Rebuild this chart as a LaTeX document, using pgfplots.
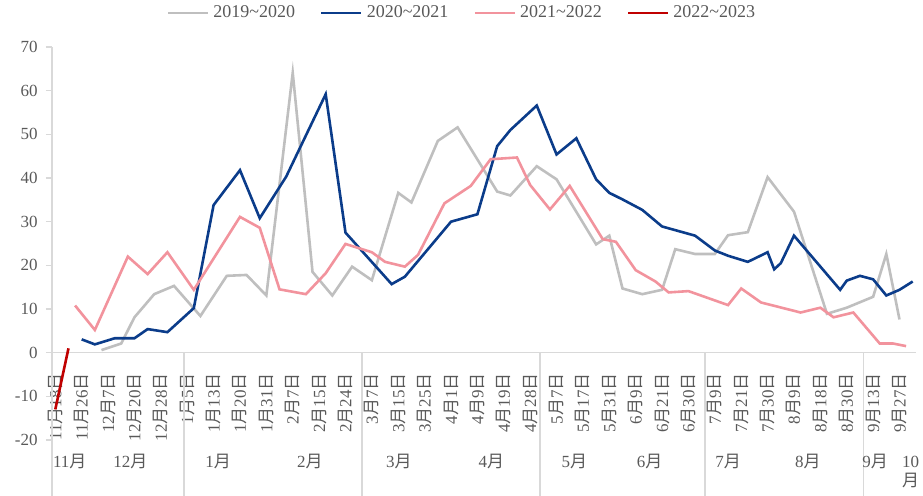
\documentclass[border=0pt]{standalone}
\usepackage{fontspec}
\setmainfont{Liberation Serif}
\newfontfamily\cjk{Noto Sans CJK SC}
\usepackage{pgfplots}
\pgfplotsset{compat=1.18}
\definecolor{cgrey}{HTML}{BFBFBF}
\definecolor{cblue}{HTML}{0B3C8A}
\definecolor{cpink}{HTML}{F2939D}
\definecolor{cred}{HTML}{C00000}
\definecolor{txt}{HTML}{595959}
\definecolor{axgray}{HTML}{D9D9D9}
\newcommand\yue{{\cjk 月}}
\newcommand\ri{{\cjk 日}}
\begin{document}
\begin{tikzpicture}
\useasboundingbox (0,0) rectangle (461.5pt,247.5pt);
\begin{axis}[
  at={(26pt,27.5pt)}, anchor=south west,
  scale only axis, width=432pt, height=196.5pt,
  xmin=-0.5, xmax=130.5, ymin=-20, ymax=70,
  clip=false,
  axis x line*=middle, axis y line*=left,
  hide obscured x ticks=false, hide obscured y ticks=false,
  axis line style={draw=axgray, line width=0.6pt},
  tick align=outside,
  xtick={0,4,...,128},
  xticklabels={11\yue18\ri, 11\yue26\ri, 12\yue7\ri, 12\yue20\ri, 12\yue28\ri, 1\yue5\ri, 1\yue13\ri, 1\yue20\ri, 1\yue31\ri, 2\yue7\ri, 2\yue15\ri, 2\yue24\ri, 3\yue7\ri, 3\yue15\ri, 3\yue25\ri, 4\yue1\ri, 4\yue9\ri, 4\yue19\ri, 4\yue28\ri, 5\yue7\ri, 5\yue17\ri, 5\yue31\ri, 6\yue9\ri, 6\yue21\ri, 6\yue30\ri, 7\yue9\ri, 7\yue21\ri, 7\yue30\ri, 8\yue9\ri, 8\yue18\ri, 8\yue30\ri, 9\yue13\ri, 9\yue27\ri},
  x tick style={draw=none},
  ytick={-20,-10,...,70},
  yticklabels={-20,-10,0,10,20,30,40,50,60,70},
  y tick style={draw=axgray, line width=0.6pt},
  major tick length=3pt,
  tick label style={font=\fontsize{8.5}{10}\selectfont, text=txt},
  xticklabel style={yshift=-7pt, rotate=90, anchor=east, inner sep=0pt},
  yticklabel style={inner sep=0pt, xshift=-4pt},
  legend columns=4,
  legend style={draw=none, fill=none, at={(axis description cs:0.5,1)}, anchor=center,
    xshift=-10.5pt, yshift=17pt,
    font=\fontsize{9}{10}\selectfont, text=txt,
    /tikz/every even column/.append style={column sep=10.5pt}},
  legend image code/.code={\draw[#1] (0pt,0pt) -- (20pt,0pt);},
]
\addplot[cgrey, line width=1.3pt] coordinates {
(7,0.6) (10,2.1) (12,8.1) (15,13.4) (18,15.3) (22,8.4) (26,17.6) (29,17.8) (32,13.1)
(36,64.1) (39,18.5) (42,13.1) (45,19.7) (48,16.6) (52,36.6) (54,34.4) (58,48.5) (61,51.6)
(67,36.9) (69,36.0) (73,42.7) (76,39.7) (82,24.8) (84,26.8) (86,14.7) (89,13.4) (92,14.4)
(94,23.7) (97,22.6) (100,22.6) (102,26.9) (105,27.6) (108,40.2) (112,32.3) (117,8.9)
(120,10.3) (124,12.8) (126,22.6) (128,7.6)};
\addlegendentry{2019\textasciitilde 2020}
\addplot[cblue, line width=1.3pt] coordinates {
(4,3.05) (6,1.9) (9,3.3) (12,3.3) (14,5.4) (17,4.7) (21,10.2) (24,33.8) (28,41.8) (31,30.8)
(35,40.3) (41,59.2) (44,27.5) (51,15.7) (53,17.4) (60,30.0) (64,31.7) (67,47.3) (69,51.0)
(73,56.6) (76,45.4) (79,49.1) (82,39.7) (84,36.6) (86,35.1) (89,32.7) (92,28.9) (97,26.8)
(100,23.4) (102,22.2) (105,20.8) (108,23.0) (109,19.1) (110,20.5) (112,26.8) (119,14.4)
(120,16.5) (122,17.6) (124,16.8) (126,13.1) (128,14.4) (130,16.3)};
\addlegendentry{2020\textasciitilde 2021}
\addplot[cpink, line width=1.3pt] coordinates {
(3,10.8) (6,5.2) (11,22.0) (14,18.0) (17,23.0) (21,14.4) (28,31.1) (31,28.6) (34,14.5)
(38,13.4) (41,18.2) (44,24.9) (48,23.0) (50,20.8) (53,19.7) (55,22.4) (59,34.2) (63,38.2)
(66,44.3) (70,44.7) (72,38.4) (75,32.8) (78,38.2) (83,26.0) (85,25.4) (88,18.9) (91,16.3)
(93,13.8) (96,14.1) (102,10.9) (104,14.7) (107,11.5) (113,9.2) (116,10.3) (118,8.1)
(121,9.2) (125,2.1) (127,2.1) (129,1.5)};
\addlegendentry{2021\textasciitilde 2022}
\addplot[cred, line width=1.3pt] coordinates {(0,-13) (2,1.0)};
\addlegendentry{2022\textasciitilde 2023}
% group separators
\foreach \s in {-0.5,19.5,46.5,73.5,98.5,122.5}{
  \edef\tmp{\noexpand\draw[axgray, line width=0.6pt] (axis cs:\s,0) -- (axis cs:\s,-33);}\tmp
}
\begin{scope}[every node/.style={font=\fontsize{8.5}{9.5}\selectfont, text=txt}]
\node at (axis cs:2.2,-25) {11\yue};
\node at (axis cs:11.4,-25) {12\yue};
\node at (axis cs:24.7,-25) {1\yue};
\node at (axis cs:38.6,-25) {2\yue};
\node at (axis cs:52.1,-25) {3\yue};
\node at (axis cs:66.1,-25) {4\yue};
\node at (axis cs:78.7,-25) {5\yue};
\node at (axis cs:90.1,-25) {6\yue};
\node at (axis cs:102,-25) {7\yue};
\node at (axis cs:114.1,-25) {8\yue};
\node at (axis cs:124.3,-25) {9\yue};
\node[align=center] at (axis cs:129.7,-27.3) {10\\\yue};
\end{scope}
\end{axis}
\end{tikzpicture}
\end{document}
